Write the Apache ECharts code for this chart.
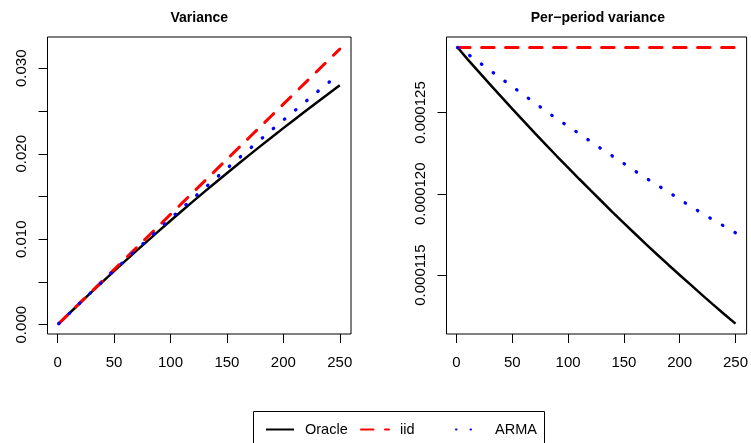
<!DOCTYPE html>
<html>
<head>
<meta charset="utf-8">
<script src="https://cdn.jsdelivr.net/npm/echarts@6/dist/echarts.min.js"></script>
<style>
html,body{margin:0;padding:0;background:#fff;}
#chart{width:751px;height:443px;}
</style>
</head>
<body>
<div id="chart"></div>
<script>
// ---- data ----
const horizons = [1,10,20,30,40,50,60,70,80,90,100,110,120,130,140,150,160,170,180,190,200,210,220,230,240,250];

// Variance (cumulative)
const varOracle = [0.000129,0.0012827,0.002550,0.003802,0.005039,0.006262,0.007469,0.008663,0.009842,0.011008,0.012161,0.013300,0.014426,0.015540,0.016640,0.017730,0.018806,0.019871,0.020925,0.021968,0.023000,0.024022,0.025032,0.026031,0.027022,0.028003];
const varIid = [0.000129,0.00129,0.00258,0.00387,0.00516,0.00645,0.00774,0.00903,0.01032,0.01161,0.0129,0.01419,0.01548,0.01677,0.01806,0.01935,0.02064,0.02193,0.02322,0.02451,0.0258,0.02709,0.02838,0.02967,0.03096,0.03225];
const varArma = [0.000129,0.001286,0.002562,0.003828,0.005084,0.00633,0.007566,0.008792,0.010008,0.011214,0.012416,0.013607,0.014788,0.015959,0.017123,0.018279,0.019424,0.020563,0.021695,0.022819,0.023932,0.025036,0.026136,0.027232,0.02832,0.0294];

// Per-period variance
const ppOracle = [0.000129,0.00012827,0.00012750,0.00012673,0.00012598,0.00012523,0.00012449,0.00012375,0.00012303,0.00012231,0.00012161,0.00012091,0.00012022,0.00011954,0.00011886,0.00011820,0.00011754,0.00011689,0.00011625,0.00011562,0.00011500,0.00011439,0.00011378,0.00011318,0.00011259,0.00011201];
const ppIid = [0.000129,0.000129,0.000129,0.000129,0.000129,0.000129,0.000129,0.000129,0.000129,0.000129,0.000129,0.000129,0.000129,0.000129,0.000129,0.000129,0.000129,0.000129,0.000129,0.000129,0.000129,0.000129,0.000129,0.000129,0.000129,0.000129];
const ppArma = [0.000129,0.0001286,0.0001281,0.0001276,0.0001271,0.0001266,0.0001261,0.0001256,0.0001251,0.0001246,0.00012416,0.0001237,0.00012323,0.00012276,0.00012231,0.00012186,0.0001214,0.00012096,0.00012053,0.0001201,0.00011966,0.00011922,0.0001188,0.0001184,0.000118,0.0001176];

// ticks and labels
const xTicks = [0,50,100,150,200,250];
const yTicksLeft = [0,0.005,0.01,0.015,0.02,0.025,0.03];
const yLabelsLeft = [0,0.01,0.02,0.03];
const yTicksRight = [0.000115,0.00012,0.000125];
const yLabelsRight = [0.000115,0.00012,0.000125];

const titles = ['Variance', 'Per\u2212period variance'];
const seriesNames = ['Oracle', 'iid', 'ARMA'];

// ---- chart ----
const FONT = '"Liberation Sans", Arial, Helvetica, sans-serif';
const pairs = arr => horizons.map((h, i) => [h, arr[i]]);

const styles = [
  {color: '#000000', width: 2.5, type: 'solid', cap: 'butt'},
  {color: '#FF0000', width: 3, type: [12.5, 11.5], cap: 'round'},
  {color: '#0000FF', width: 3.3, type: [0.5, 14], cap: 'round'}
];

function xAxis(gridIndex) {
  return {
    type: 'value', gridIndex, min: -8.96, max: 259.96,
    axisLine: {show: false, onZero: false},
    splitLine: {show: false},
    axisTick: {show: true, inside: false, length: 9, customValues: xTicks, lineStyle: {color: '#000', width: 1}},
    axisLabel: {customValues: xTicks, margin: 21, color: '#000', fontSize: 15, fontFamily: FONT}
  };
}
function yAxis(gridIndex, min, max, ticks, labels, digits) {
  return {
    type: 'value', gridIndex, min, max,
    axisLine: {show: false, onZero: false},
    splitLine: {show: false},
    axisTick: {show: true, inside: false, length: 9, customValues: ticks, lineStyle: {color: '#000', width: 1}},
    axisLabel: {customValues: labels, rotate: 90, margin: 18.5, color: '#000', fontSize: 15, fontFamily: FONT,
      formatter: v => Number(v).toFixed(digits)}
  };
}

const series = [];
const dataSets = [[varOracle, varIid, varArma], [ppOracle, ppIid, ppArma]];
dataSets.forEach((set, gi) => {
  set.forEach((arr, si) => {
    const st = styles[si];
    series.push({
      type: 'line', name: seriesNames[si], xAxisIndex: gi, yAxisIndex: gi,
      data: pairs(arr), symbol: 'none', showSymbol: false, silent: true,
      lineStyle: {color: st.color, width: st.width, type: st.type, cap: st.cap},
      itemStyle: {color: st.color},
      z: 2 + si
    });
  });
});

function legendAt(name, left) {
  return {
    data: [name], left: left, top: 422, padding: 0, itemWidth: 28, itemHeight: 14,
    selectedMode: false, itemGap: 0,
    itemStyle: {opacity: 0},
    textStyle: {color: '#000', fontSize: 14.5, fontFamily: FONT, padding: [0, 0, 0, 6]}
  };
}

const option = {
  animation: false,
  backgroundColor: '#ffffff',
  title: [
    {text: titles[0], left: 199.3, top: 11, padding: 0, textAlign: 'center',
     textStyle: {fontSize: 14, fontWeight: 'bold', color: '#000', fontFamily: FONT}},
    {text: titles[1], left: 597.8, top: 11, padding: 0, textAlign: 'center',
     textStyle: {fontSize: 14, fontWeight: 'bold', color: '#000', fontFamily: FONT}}
  ],
  grid: [
    {left: 47.5, top: 37, width: 303.5, height: 297, show: true, borderColor: '#000', borderWidth: 1, backgroundColor: 'transparent'},
    {left: 446.5, top: 37, width: 303, height: 297, show: true, borderColor: '#000', borderWidth: 1, backgroundColor: 'transparent'}
  ],
  xAxis: [xAxis(0), xAxis(1)],
  yAxis: [
    yAxis(0, -0.001088, 0.033662, yTicksLeft, yLabelsLeft, 3),
    yAxis(1, 0.00011137, 0.00012965, yTicksRight, yLabelsRight, 6)
  ],
  legend: [legendAt('Oracle', 265), legendAt('iid', 360), legendAt('ARMA', 455)],
  graphic: [{
    type: 'rect', shape: {x: 253.5, y: 411.5, width: 291, height: 40},
    style: {fill: 'none', stroke: '#000', lineWidth: 1}, silent: true
  }],
  series
};

const chart = echarts.init(document.getElementById('chart'), null, {renderer: 'canvas'});
chart.setOption(option);
</script>
</body>
</html>
